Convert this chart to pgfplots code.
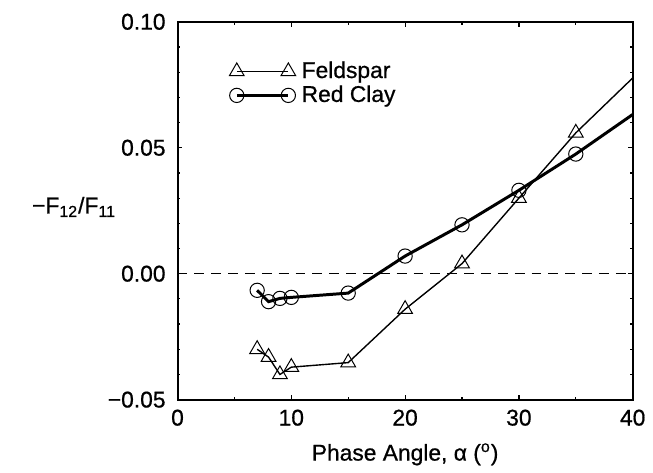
\documentclass[border=0pt]{standalone}
\usepackage{fontspec}
\setmainfont{Liberation Sans}[FakeBold=0.7]
\usepackage{pgfplots}
\pgfplotsset{compat=1.18}
\begin{document}
\fontsize{11.5}{13.8}\selectfont
\begin{tikzpicture}
\begin{axis}[
  scale only axis, width=229.5pt, height=190.5pt,
  xmin=0, xmax=40, ymin=-0.05, ymax=0.10,
  xtick={0,10,20,30,40}, xticklabels={0,10,20,30,40}, minor x tick num=1,
  ytick={-0.05,0,0.05,0.10}, yticklabels={−0.05,0.00,0.05,0.10}, minor y tick num=4,
  tick align=inside, major tick length=2.5pt, minor tick length=1.5pt,
  axis line style={line width=1pt},
  every tick/.style={line width=0.6pt, black},
  ticklabel style={font=\fontsize{11.5}{13.8}\selectfont},
  yticklabel style={xshift=-2pt},
  xticklabel style={yshift=-1pt},
  xlabel={Phase Angle, α (\textsuperscript{o})},
  xlabel style={font=\fontsize{11.5}{13.8}\selectfont, yshift=-1pt},
  clip=false,
  legend style={draw=none, fill=none, at={(0.1,0.917)}, anchor=north west,
    font=\fontsize{11.5}{13.8}\selectfont, row sep=-2pt, cells={anchor=west},
    nodes={inner xsep=3pt}},
  legend image code/.code={\draw[#1, mark indices={1,3}] plot coordinates {(0pt,0pt) (13pt,0pt) (26pt,0pt)};},
]
\addplot[black, line width=0.7pt, mark=triangle, mark size=4.3pt,
  mark indices={1,2,3,4,5,6,7,8,9}, mark options={line width=0.5pt, solid}]
  coordinates {(7,-0.030)(8,-0.0331)(9,-0.040)(10,-0.0371)(15,-0.0353)(20,-0.0141)(25,0.004)(30,0.030)(35,0.0559)(40,0.0777)};
\addlegendentry{Feldspar}
\addplot[black, line width=1.5pt, mark=o, mark size=3.6pt,
  mark indices={1,2,3,4,5,6,7,8,9}, mark options={line width=0.5pt, solid}]
  coordinates {(7,-0.0066)(8,-0.0111)(9,-0.0098)(10,-0.0094)(15,-0.0077)(20,0.0070)(25,0.0194)(30,0.0331)(35,0.0475)(40,0.0632)};
\addlegendentry{Red Clay}
\addplot[black, line width=0.5pt, dash pattern=on 5pt off 3.5pt, forget plot] coordinates {(0,0)(40,0)};
\node[anchor=east] at (rel axis cs:0,0.51) [xshift=-27pt] {−F\textsubscript{12}/F\textsubscript{11}};
\path (rel axis cs:0,0) ++(-89.5pt,-31pt) (rel axis cs:1,1) ++(7.5pt,11pt);
\end{axis}
\end{tikzpicture}
\end{document}
